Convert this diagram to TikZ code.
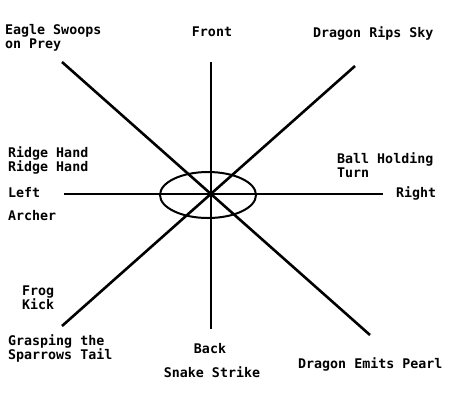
\documentclass[tikz,border=0pt]{standalone}
\usepackage{fontspec}
\setmonofont{DejaVu Sans Mono}
\usepackage{tikz}
\usetikzlibrary{positioning}
\tikzstyle{chart} = [x = 1pt, y = -1pt]
\tikzstyle{axisLine} = [color=black, line width=2.6pt]
\tikzstyle{ringLine} = [color=black, line width=2pt]
\tikzstyle{moveText} = [font=\fontsize{13.3}{14}\selectfont\ttfamily\bfseries, inner sep=0pt, align=left]
\newcommand{\moveLabel}[4]{\node [moveText, anchor=#2] (#1) at (#3) {#4};}

\begin{document}
\begin{tikzpicture}[chart]
              \useasboundingbox (0,0) rectangle (468,408);
              \coordinate (hub) at (211,194);
              \coordinate (frontEnd) at (211,62);
              \coordinate (backEnd) at (211,329);
              \coordinate (leftEnd) at (64,194);
              \coordinate (rightEnd) at (383,194);
              \coordinate (northWestEnd) at (62,62);
              \coordinate (southEastEnd) at (370,335);
              \coordinate (northEastEnd) at (355,66);
              \coordinate (southWestEnd) at (62,326);

              \draw [axisLine] (frontEnd) -- (backEnd);
              \draw [axisLine] (leftEnd) -- (rightEnd);
              \draw [axisLine] (northWestEnd) -- (southEastEnd);
              \draw [axisLine] (northEastEnd) -- (southWestEnd);
              \draw [ringLine] (208,195) ellipse (48 and 23);

              \moveLabel{eagle}{west}{5,38}{Eagle Swoops\\on Prey}
              \moveLabel{front}{center}{212,32}{Front}
              \moveLabel{dragonRips}{west}{313,33}{Dragon Rips Sky}
              \moveLabel{ridge}{west}{8,160}{Ridge Hand\\Ridge Hand}
              \moveLabel{left}{west}{8,193}{Left}
              \moveLabel{archer}{west}{8,216}{Archer}
              \moveLabel{ball}{west}{337,165}{Ball Holding\\Turn}
              \moveLabel{right}{west}{396,193}{Right}
              \moveLabel{frog}{west}{22,298}{Frog\\Kick}
              \moveLabel{grasping}{west}{8,348}{Grasping the\\Sparrows Tail}
              \moveLabel{back}{center}{210,349}{Back}
              \moveLabel{snake}{center}{212,372}{Snake Strike}
              \moveLabel{pearl}{west}{298,364}{Dragon Emits Pearl}
            \end{tikzpicture}
\end{document}
